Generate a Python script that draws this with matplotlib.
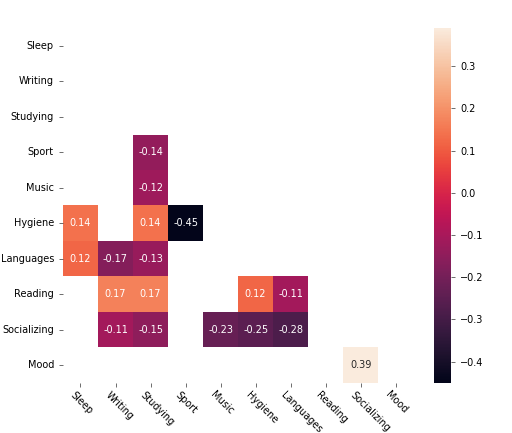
import numpy as np
import matplotlib.pyplot as plt
import matplotlib.transforms as mtransforms
import seaborn as sns

labels = ["Sleep", "Writing", "Studying", "Sport", "Music", "Hygiene",
          "Languages", "Reading", "Socializing", "Mood"]

# only the significant correlations, (row, col, value)
rows = ["Sport", "Music", "Hygiene", "Hygiene", "Hygiene",
        "Languages", "Languages", "Languages",
        "Reading", "Reading", "Reading", "Reading",
        "Socializing", "Socializing", "Socializing", "Socializing", "Socializing",
        "Mood"]
cols = ["Studying", "Studying", "Sleep", "Studying", "Sport",
        "Sleep", "Writing", "Studying",
        "Writing", "Studying", "Hygiene", "Languages",
        "Writing", "Studying", "Music", "Hygiene", "Languages",
        "Socializing"]
vals = [-0.14, -0.12, 0.14, 0.14, -0.45,
        0.12, -0.17, -0.13,
        0.17, 0.17, 0.12, -0.11,
        -0.11, -0.15, -0.23, -0.25, -0.28,
        0.39]

n = len(labels)
corr = np.full((n, n), np.nan)
for r, c, v in zip(rows, cols, vals):
    corr[labels.index(r), labels.index(c)] = v

fig = plt.figure(figsize=(5.12, 4.33), dpi=100)
ax = fig.add_axes([0.123, 0.116, 0.684, 0.819])
cax = fig.add_axes([0.848, 0.116, 0.033, 0.819])

sns.heatmap(corr, ax=ax, cbar_ax=cax, annot=True, fmt=".2f",
            annot_kws={"fontsize": 7}, xticklabels=labels, yticklabels=labels)

ax.tick_params(labelsize=7, length=3, width=0.6, color="#555555")
ax.set_xticklabels(labels, rotation=-45, ha="left", va="top",
                   rotation_mode="anchor")
# nudge the slanted labels a bit left and up, like the original
shift = mtransforms.ScaledTranslation(-5 / 100, 2 / 100, fig.dpi_scale_trans)
for t in ax.get_xticklabels():
    t.set_transform(t.get_transform() + shift)
ax.set_yticklabels(labels, rotation=0)
cax.tick_params(labelsize=7, length=3, width=0.6, color="#555555")

fig.savefig("out.png", dpi=100)
